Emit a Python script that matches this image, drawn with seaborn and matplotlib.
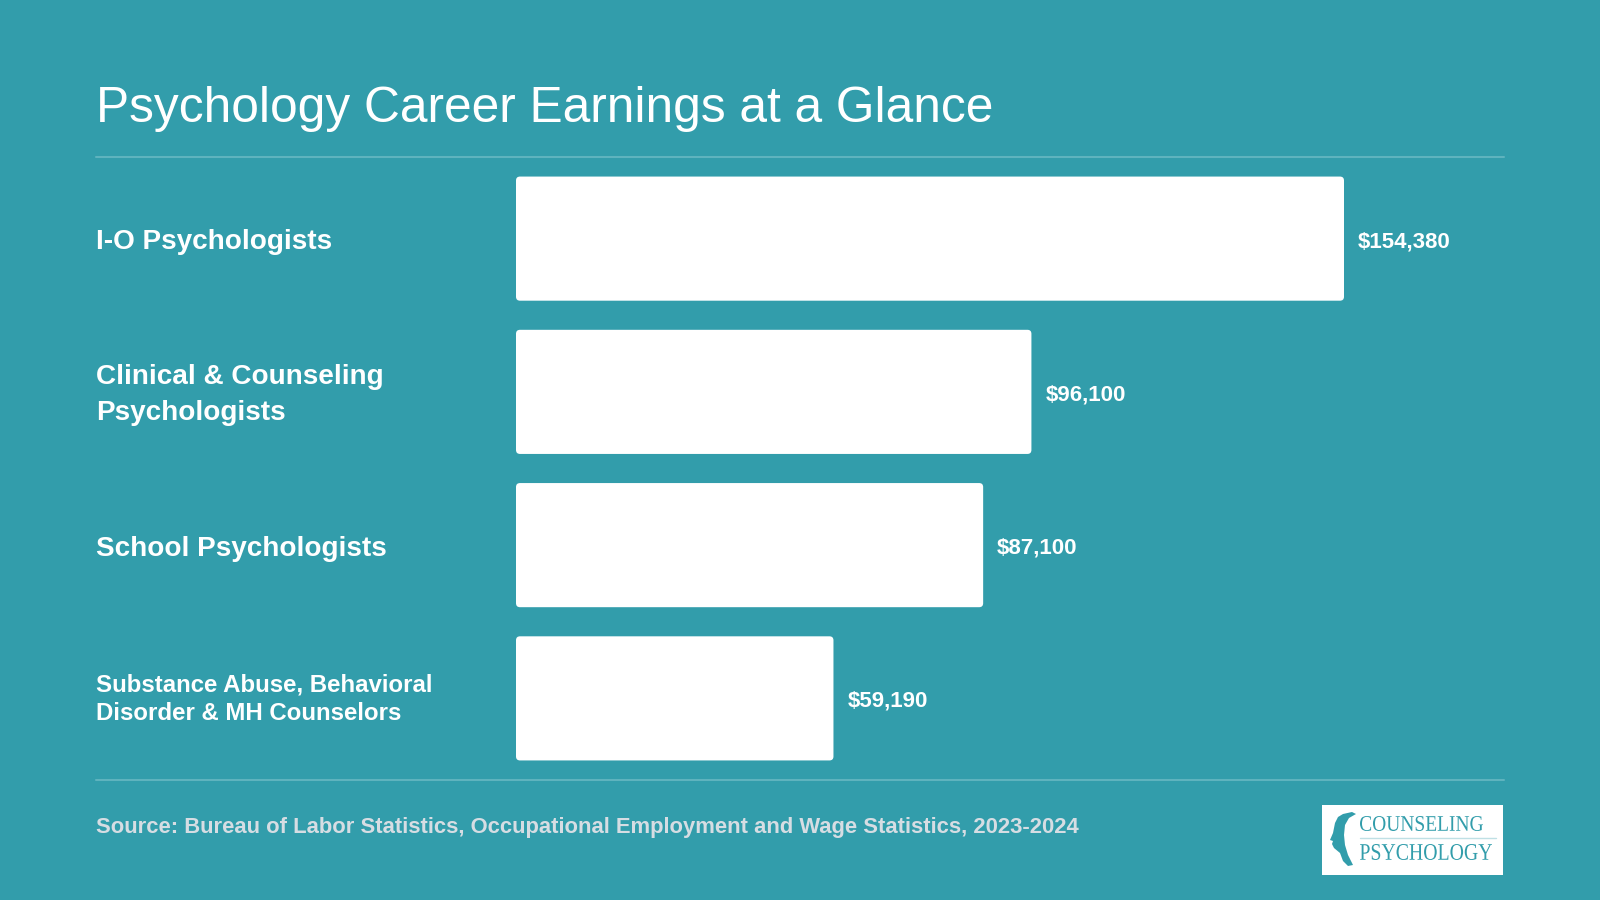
import numpy as np
import pandas as pd
import seaborn as sns
import matplotlib.pyplot as plt
from matplotlib.patches import FancyBboxPatch, Rectangle, Polygon, PathPatch
from matplotlib.transforms import blended_transform_factory, Affine2D, offset_copy
from matplotlib.textpath import TextPath
from matplotlib.font_manager import FontProperties
from matplotlib.lines import Line2D

# data
categories = ['I-O Psychologists',
              'Clinical & Counseling\nPsychologists',
              'School Psychologists',
              'Substance Abuse, Behavioral\nDisorder & MH Counselors']
salaries = [154380, 96100, 87100, 59190]
title = 'Psychology Career Earnings at a Glance'
source = 'Source: Bureau of Labor Statistics, Occupational Employment and Wage Statistics, 2023-2024'
logo_lines = ['COUNSELING', 'PSYCHOLOGY']

BG = '#329dab'
RULE = '#5eb3be'
SRC = '#d6dde3'

W, H = 1600, 900

sns.set_theme(style='white')
plt.rcParams['font.family'] = ['Liberation Sans', 'DejaVu Sans']

df = pd.DataFrame({'category': categories, 'salary': salaries})

fig = plt.figure(figsize=(16, 9), dpi=100)
fig.patch.set_facecolor(BG)
px = Affine2D().scale(1 / W, 1 / H) + fig.transFigure  # pixel coords, origin bottom-left

# axes: x=0 at 516px, right edge at 1504px; rows 153px apart starting at 162px
ax_left, ax_right, ax_top, ax_bot = 516, 1504, 162, 775
ax = fig.add_axes([ax_left / W, 1 - ax_bot / H, (ax_right - ax_left) / W, (ax_bot - ax_top) / H])
ax.set_facecolor('none')

sns.barplot(data=df, x='salary', y='category', orient='h', color='white',
            width=0.81, saturation=1, ax=ax)

# longest bar ends at 1344px
dollars_per_px = max(salaries) / (1344 - ax_left)
ax.set_xlim(0, (ax_right - ax_left) * dollars_per_px)
ax.set_ylim(len(categories) - 0.5, -0.5)
ax.set_axis_off()

# rounded corners
ypx = (ax_bot - ax_top) / len(categories)
r = 4 * dollars_per_px
asp = (1 / ypx) / dollars_per_px
for p in list(ax.patches):
    x, y, w, h = p.get_x(), p.get_y(), p.get_width(), p.get_height()
    p.remove()
    ax.add_patch(FancyBboxPatch((x, y), w, h, boxstyle=f'round,pad=0,rounding_size={r}',
                                mutation_aspect=asp, fc='white', ec='none'))

# value labels
for i, v in enumerate(salaries):
    ax.annotate(f'${v:,.0f}', (v, i), xytext=(14, -3), textcoords='offset pixels',
                va='center', ha='left', color='white', fontsize=16, fontweight='bold')

# category labels
base_tr = blended_transform_factory(fig.transFigure, ax.transData)
for i, c in enumerate(categories):
    small = max(len(s) for s in c.split('\n')) > 24
    tr = offset_copy(base_tr, fig=fig, x=0, y=-1 if small else -3.5, units='dots')
    ax.text(96 / W, i, c, transform=tr, ha='left', va='center', color='white',
            fontsize=17.3 if small else 20.1, fontweight='bold',
            linespacing=1.34 if small else 1.5)

# title and rules
fig.text(96 / W, 1 - 122 / H, title, ha='left', va='baseline', color='white', fontsize=35.7)
for yy in (157, 780):
    fig.add_artist(Line2D([96 / W, 1504 / W], [1 - yy / H, 1 - yy / H], color=RULE, lw=1.5))

fig.text(96 / W, 1 - 828 / H, source, ha='left', va='center', color=SRC,
         fontsize=15.8, fontweight='bold')

# logo
fig.add_artist(Rectangle((1322, H - 875), 181, 70, transform=px, fc='white', ec='none'))
serif = FontProperties(family=['Liberation Serif', 'DejaVu Serif'])
for word, (x0, x1, ytop, ybase) in zip(logo_lines, [(1360, 1483, 816, 831), (1360, 1492, 844, 860)]):
    tp = TextPath((0, 0), word, size=20, prop=serif)
    bb = tp.get_extents()
    t = Affine2D().translate(-bb.x0, -bb.y0).scale((x1 - x0) / bb.width, (ybase - ytop) / bb.height)
    t = t.translate(x0, H - ybase)
    fig.add_artist(PathPatch(tp, transform=t + px, fc=BG, ec='none'))
fig.add_artist(Line2D([1360, 1496], [H - 837.5, H - 837.5], transform=px, color='#bfe0e5', lw=1))
head = [(1352, 812), (1343, 814), (1338, 817), (1335, 823), (1334, 828), (1333, 833),
        (1330, 840), (1333, 841), (1332, 844), (1334, 848), (1340, 853), (1343, 861),
        (1348, 866), (1353, 865), (1348, 855), (1345, 845), (1344, 835), (1345, 825),
        (1349, 818), (1356, 814)]
fig.add_artist(Polygon([(a, H - b) for a, b in head], closed=True, transform=px,
                       fc=BG, ec='none'))

fig.savefig('out.png', dpi=100, facecolor=fig.get_facecolor())
